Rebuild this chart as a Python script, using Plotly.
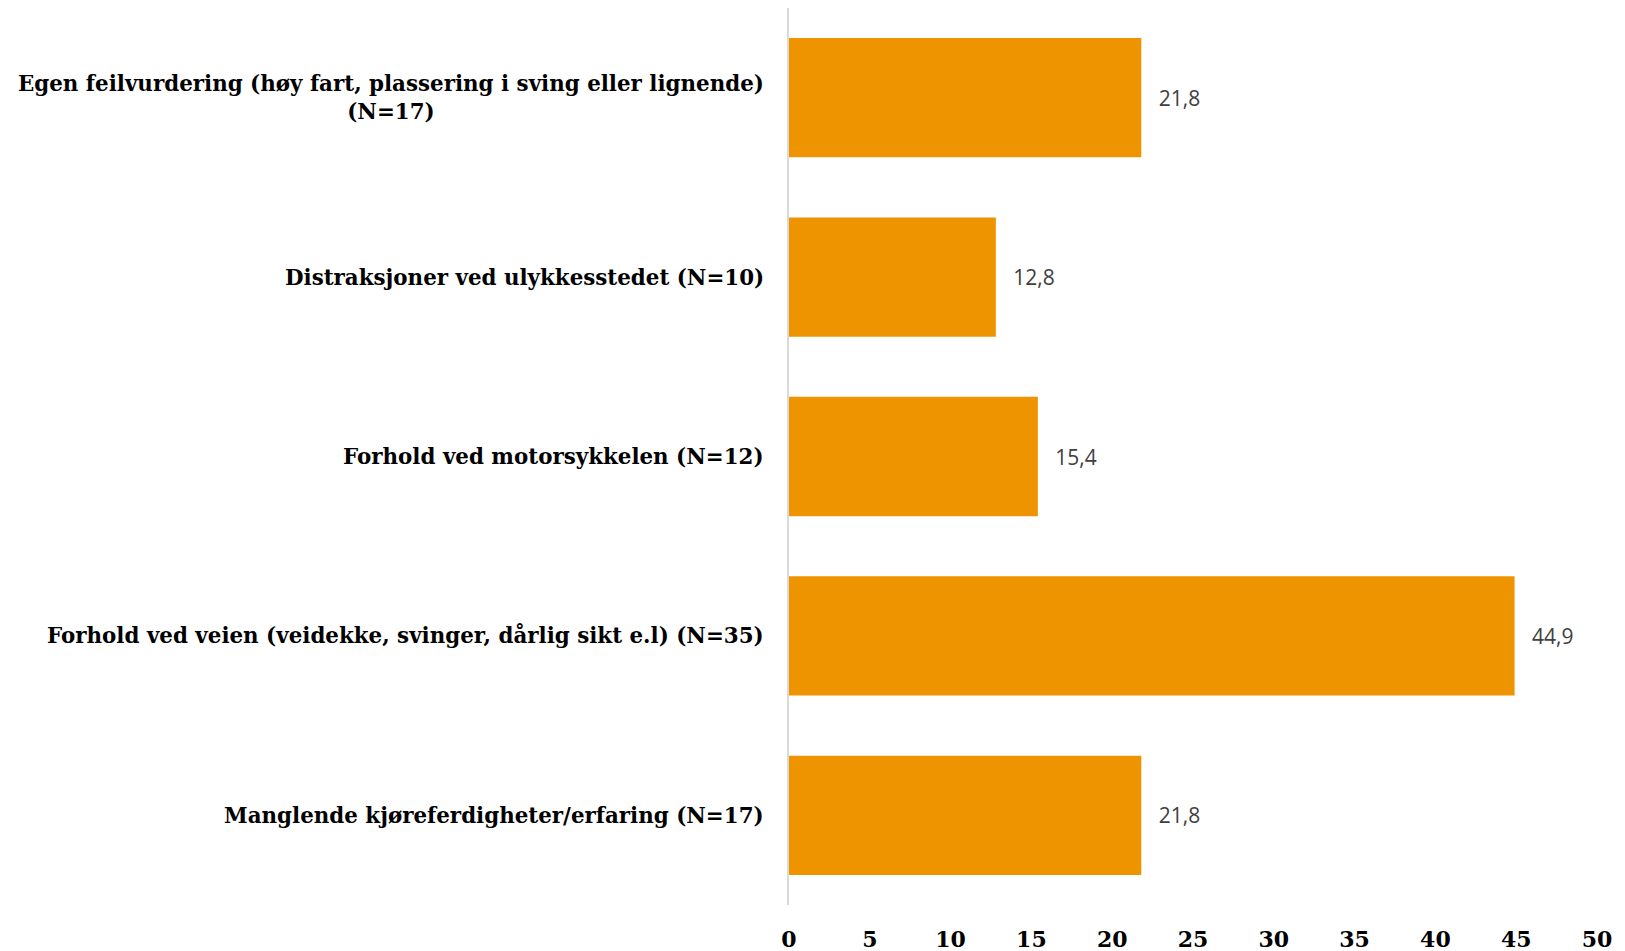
import plotly.graph_objects as go

categories = [
    "Egen feilvurdering (høy fart, plassering i sving eller lignende)<br>(N=17)",
    "Distraksjoner ved ulykkesstedet (N=10)",
    "Forhold ved motorsykkelen (N=12)",
    "Forhold ved veien (veidekke, svinger, dårlig sikt e.l) (N=35)",
    "Manglende kjøreferdigheter/erfaring (N=17)",
]
values = [21.8, 12.8, 15.4, 44.9, 21.8]
x_ticks = [0, 5, 10, 15, 20, 25, 30, 35, 40, 45, 50]

serif = "DejaVu Serif, Liberation Serif, serif"

fig = go.Figure()
fig.add_trace(go.Bar(
    x=values,
    y=list(range(len(categories))),
    orientation="h",
    marker=dict(color="#ED9400", line=dict(width=0)),
    texttemplate="  \u2009%{x:.1f}",
    textposition="outside",
    textfont=dict(family="Open Sans, sans-serif", size=21, color="#404040"),
    cliponaxis=False,
    hoverinfo="skip",
))

for i, c in enumerate(categories):
    fig.add_annotation(
        x=0, xref="paper", y=i, yref="y",
        text="<b>" + c + "</b>",
        showarrow=False, xanchor="right", yanchor="middle",
        align="center", xshift=-23,
        font=dict(family=serif, size=21.4, color="#000000"),
    )

fig.update_layout(
    width=1617, height=943,
    margin=dict(l=781, r=28, t=0, b=46),
    paper_bgcolor="white", plot_bgcolor="white",
    separators=",.",
    bargap=0.335,
    showlegend=False,
    xaxis=dict(
        range=[0, 50], tickvals=x_ticks,
        ticktext=["<b>%d</b>" % t for t in x_ticks],
        showgrid=False, zeroline=False, showline=False,
        tickfont=dict(family=serif, size=22, color="#000000"),
        ticklabelstandoff=19,
    ),
    yaxis=dict(
        range=[4.5, -0.5],
        showticklabels=False, showgrid=False, zeroline=False,
        showline=True, linecolor="#D9D9D9", linewidth=2,
    ),
)

fig.write_html("out.html")
